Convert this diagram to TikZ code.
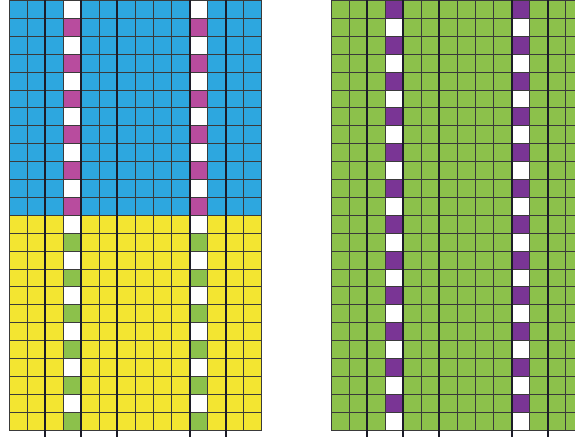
\documentclass[tikz,border=0pt]{standalone}
\definecolor{cblue}{HTML}{2DA7DF}
\definecolor{cmag}{HTML}{B84C9E}
\definecolor{cyel}{HTML}{F3E531}
\definecolor{cgrn}{HTML}{8CC14B}
\definecolor{cpur}{HTML}{7A3595}
\definecolor{cline}{HTML}{3A3A3A}
\definecolor{cthick}{HTML}{1C1C28}
\begin{document}
\begin{tikzpicture}[x=1pt,y=-1pt,
  thinline/.style={draw=cline,line width=1pt},
  thickline/.style={draw=cthick,line width=2pt}]
\def\cw{18.07}
\def\rh{17.9}
\def\gy{0.5}
\useasboundingbox (0,0) rectangle (575,437);
\clip (0,0) rectangle (575,437);
% ---------- left grid ----------
\def\lx{9}
\fill[cblue] (\lx,\gy) rectangle ({\lx+14*\cw},{\gy+12*\rh});
\fill[cyel] (\lx,{\gy+12*\rh}) rectangle ({\lx+14*\cw},{\gy+24*\rh});
\foreach \r in {0,...,23}{
  \pgfmathtruncatemacro{\rpar}{mod(\r,2)}
  \ifnum\rpar=0
    \def\sc{white}
  \else
    \ifnum\r<12 \def\sc{cmag}\else\def\sc{cgrn}\fi
  \fi
  \foreach \c in {3,10}{
    \fill[\sc] ({\lx+\c*\cw},{\gy+\r*\rh}) rectangle ({\lx+(\c+1)*\cw},{\gy+(\r+1)*\rh});
  }
}
\foreach \i in {0,...,14}{
  \draw[thinline] ({\lx+\i*\cw},\gy) -- ({\lx+\i*\cw},{\gy+24*\rh});
}
\foreach \j in {0,...,24}{
  \draw[thinline] (\lx,{\gy+\j*\rh}) -- ({\lx+14*\cw},{\gy+\j*\rh});
}
\foreach \i in {2,4,6,10,12}{
  \draw[thickline] ({\lx+\i*\cw},0) -- ({\lx+\i*\cw},437);
}
% ---------- right grid ----------
\def\rx{331}
\fill[cgrn] (\rx,\gy) rectangle ({\rx+14*\cw},{\gy+24*\rh});
\foreach \r in {0,...,23}{
  \pgfmathtruncatemacro{\rpar}{mod(\r,2)}
  \ifnum\rpar=0 \def\sc{cpur}\else\def\sc{white}\fi
  \foreach \c in {3,10}{
    \fill[\sc] ({\rx+\c*\cw},{\gy+\r*\rh}) rectangle ({\rx+(\c+1)*\cw},{\gy+(\r+1)*\rh});
  }
}
\foreach \i in {0,...,14}{
  \draw[thinline] ({\rx+\i*\cw},\gy) -- ({\rx+\i*\cw},{\gy+24*\rh});
}
\foreach \j in {0,...,24}{
  \draw[thinline] (\rx,{\gy+\j*\rh}) -- ({\rx+14*\cw},{\gy+\j*\rh});
}
\foreach \i in {2,4,6,10,12}{
  \draw[thickline] ({\rx+\i*\cw},0) -- ({\rx+\i*\cw},437);
}
\end{tikzpicture}
\end{document}
